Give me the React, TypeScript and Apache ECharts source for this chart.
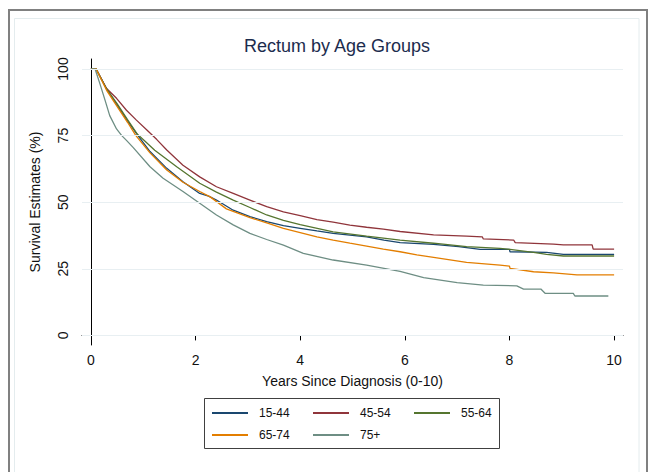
import React, { useEffect, useRef } from "react";
import * as echarts from "echarts";

const TITLE = "Rectum by Age Groups";
const X_NAME = "Years Since Diagnosis (0-10)";
const Y_NAME = "Survival Estimates (%)";
const X_TICKS = [0, 2, 4, 6, 8, 10];
const Y_TICKS = [0, 25, 50, 75, 100];
const GROUPS = ["15-44", "45-54", "55-64", "65-74", "75+"];
const COLORS = ["#1a476f", "#90353b", "#55752f", "#e37e00", "#6e8e84"];

const age15_44 = [[0,100],[0.1,100],[0.3,92.5],[0.5,86.5],[0.7,80.5],[0.9,75],[1.13,69],[1.45,62.7],[1.76,57.7],[2.08,53.3],[2.25,52.3],[2.4,50.8],[2.72,47],[3.04,44.6],[3.36,42.7],[3.68,41.2],[4.0,40.2],[4.32,39.2],[4.63,38.3],[5.27,37.0],[5.6,35.8],[5.91,34.8],[6.55,34.2],[7.03,33.3],[7.44,32.3],[8.0,32.3],[8.01,31.4],[8.71,31.2],[9.03,30.4],[10,30.4]];
const age45_54 = [[0,100],[0.1,100],[0.3,92.7],[0.49,89],[0.68,84.5],[0.87,80.8],[1.07,77.1],[1.26,73.5],[1.45,69.6],[1.76,63.9],[2.08,59.5],[2.4,55.8],[2.72,53.3],[3.04,50.8],[3.36,48.3],[3.68,46.4],[4.0,45.0],[4.32,43.5],[4.63,42.5],[4.95,41.4],[5.27,40.6],[5.59,39.9],[5.91,39.0],[6.55,37.7],[7.18,37.3],[7.48,37.0],[7.5,36.2],[8.08,35.8],[8.11,34.8],[8.84,34.3],[9.03,34.0],[9.58,34.0],[9.6,32.4],[10,32.4]];
const age55_64 = [[0,100],[0.1,100],[0.3,92.5],[0.5,87],[0.7,81],[0.89,75.5],[1.03,73],[1.22,69.5],[1.64,63.3],[2.08,57.1],[2.4,53.8],[2.72,50.8],[3.04,48.0],[3.36,45.2],[3.68,43.2],[4.0,41.6],[4.63,38.9],[5.27,37.3],[5.91,35.8],[6.55,34.6],[7.18,33.3],[7.82,32.7],[8.01,32.3],[8.46,31.2],[8.71,30.4],[9.03,29.8],[10,29.8]];
const age65_74 = [[0,100],[0.1,100],[0.3,92],[0.5,86],[0.7,80],[0.86,75],[1.13,68.5],[1.45,62.1],[1.76,57.5],[2.08,54],[2.28,52.0],[2.59,47.5],[3.04,44.2],[3.36,42.2],[3.68,40.2],[4.0,38.6],[4.32,37.0],[4.63,35.8],[4.95,34.6],[5.27,33.5],[5.59,32.4],[5.91,31.4],[6.23,30.2],[6.55,29.3],[7.18,27.4],[7.82,26.4],[8.0,26.0],[8.01,25.2],[8.46,23.9],[8.84,23.5],[9.29,22.7],[10,22.7]];
const age75plus = [[0,100],[0.08,100],[0.17,94.6],[0.27,88.3],[0.36,82.5],[0.49,77.5],[0.59,75],[0.68,73.2],[0.81,70.5],[1.13,63.3],[1.38,59],[1.76,54],[2.08,49.6],[2.4,45.2],[2.72,41.5],[3.04,38.3],[3.36,36],[3.68,33.9],[4.06,30.8],[4.63,28.3],[5.27,26.4],[5.91,24.0],[6.36,21.7],[7.0,19.8],[7.5,18.9],[8.14,18.6],[8.27,17.4],[8.6,17.4],[8.68,15.8],[9.22,15.8],[9.25,14.8],[9.89,14.8]];

const SERIES_DATA = [age15_44, age45_54, age55_64, age65_74, age75plus];

export default function App() {
  const ref = useRef<HTMLDivElement>(null);
  useEffect(() => {
    document.body.style.margin = "0";
    const chart = echarts.init(ref.current!, null, { renderer: "svg" });
    const font = "Liberation Sans, Arial, Helvetica, sans-serif";
    const legendCommon = {
      orient: "horizontal" as const,
      left: 212,
      padding: 0,
      itemWidth: 36,
      itemHeight: 2,
      itemGap: 8,
      icon: "rect",
      textStyle: {
        fontFamily: font,
        fontSize: 12,
        color: "#111",
        width: 46,
        lineHeight: 14,
        padding: [0, 0, 0, 6],
      },
    };
    chart.setOption({
      animation: false,
      backgroundColor: "#ffffff",
      textStyle: { fontFamily: font },
      grid: { left: 82, right: 25, top: 59, bottom: 127, containLabel: false },
      xAxis: {
        type: "value",
        min: -0.17,
        max: 10.17,
        name: X_NAME,
        nameLocation: "middle",
        nameGap: 29,
        nameTextStyle: { fontSize: 14, color: "#111", fontFamily: font },
        axisLine: { show: true, lineStyle: { color: "#000", width: 1 } },
        axisTick: { show: true, length: 5, customValues: X_TICKS, lineStyle: { color: "#000" } },
        axisLabel: { customValues: X_TICKS, fontSize: 14, color: "#111", margin: 8, fontFamily: font },
        splitLine: { show: false },
      },
      yAxis: {
        type: "value",
        min: -3.6,
        max: 103.75,
        name: Y_NAME,
        nameLocation: "middle",
        nameGap: 40,
        nameTextStyle: { fontSize: 14, color: "#111", fontFamily: font },
        axisLine: { show: true, lineStyle: { color: "#000", width: 1 } },
        axisTick: { show: true, length: 5, customValues: Y_TICKS, lineStyle: { color: "#000" } },
        axisLabel: { customValues: Y_TICKS, fontSize: 14, color: "#111", margin: 12, rotate: 90, fontFamily: font },
        splitLine: { show: false },
      },
      legend: [
        { ...legendCommon, top: 406, data: GROUPS.slice(0, 3) },
        { ...legendCommon, top: 428, data: GROUPS.slice(3) },
      ],
      graphic: [
        { type: "rect", shape: { x: 9, y: 10, width: 638, height: 480 }, style: { fill: "none", stroke: "#808080", lineWidth: 2 }, silent: true },
        { type: "rect", shape: { x: 14.5, y: 18.5, width: 624.5, height: 500 }, style: { fill: "none", stroke: "#e4ecee", lineWidth: 1 }, silent: true },
        { type: "rect", shape: { x: 204.5, y: 398.5, width: 295, height: 50 }, style: { fill: "none", stroke: "#404040", lineWidth: 1 }, silent: true },
        { type: "text", x: 337, y: 46, style: { text: TITLE, fontSize: 18, fontFamily: font, fill: "#1c2c4e", textAlign: "center", textVerticalAlign: "middle" } },
      ],
      series: [
        {
          name: "_grid",
          type: "line",
          data: [],
          z: 1,
          silent: true,
          markLine: {
            silent: true,
            symbol: "none",
            label: { show: false },
            lineStyle: { color: "#e8eff2", width: 1, type: "solid" },
            data: Y_TICKS.map((v) => ({ yAxis: v })),
          },
        },
        ...GROUPS.map((g, i) => ({
          name: g,
          type: "line",
          data: SERIES_DATA[i],
          showSymbol: false,
          symbol: "none",
          z: 3,
          lineStyle: { color: COLORS[i], width: 1.3 },
          itemStyle: { color: COLORS[i] },
        })),
      ],
    });
    return () => chart.dispose();
  }, []);
  return <div ref={ref} style={{ position: "absolute", left: 0, top: 0, width: 648, height: 472 }} />;
}
